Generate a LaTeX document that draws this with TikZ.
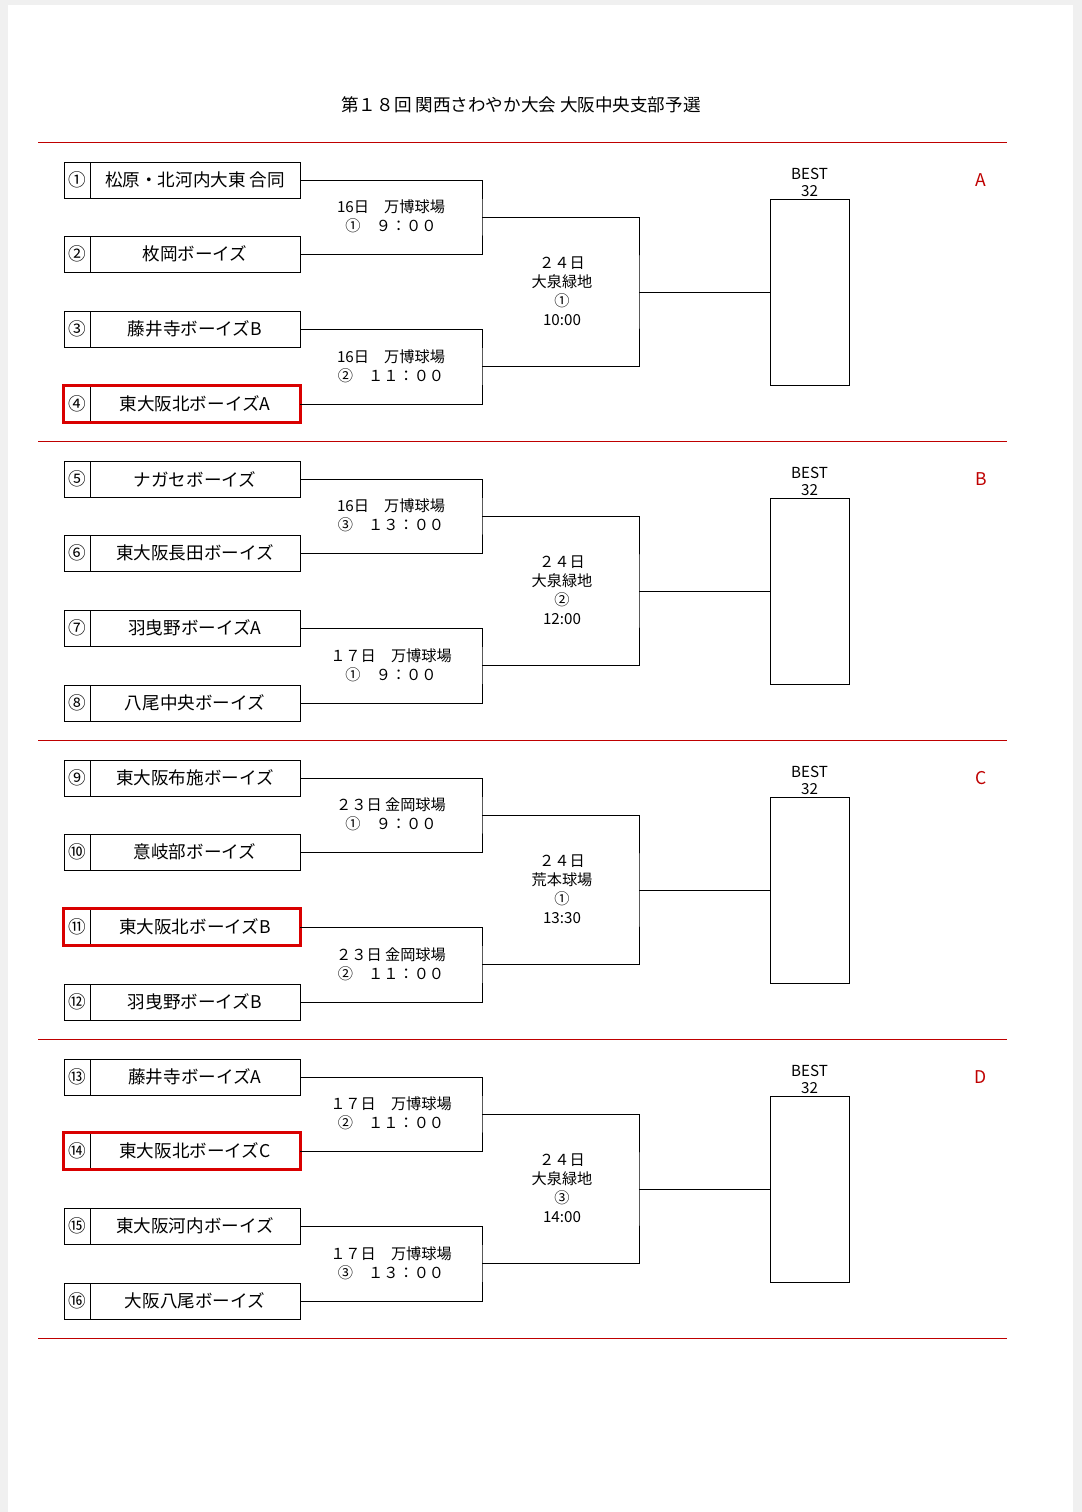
\documentclass[tikz,border=0pt]{standalone}
\usepackage{fontspec}
\setmainfont{Noto Sans CJK JP}
\usetikzlibrary{positioning}
\tikzset{
  team/.style  = {draw, line width=0.6pt, minimum width=5.25cm, minimum height=0.9cm, inner sep=0pt, font=\fontsize{12.5}{14}\selectfont},
  num/.style   = {draw, line width=0.6pt, minimum width=0.65cm, minimum height=0.9cm, inner sep=0pt, font=\fontsize{12.5}{14}\selectfont},
  hilite/.style= {draw=red!85!black, line width=2pt},
  match/.style = {align=center, font=\fontsize{10.8}{13.6}\selectfont},
  best/.style  = {draw, line width=0.6pt, minimum width=1.975cm, minimum height=4.65cm, inner sep=0pt},
  sep/.style   = {red!75!black, line width=0.7pt},
}
\begin{document}
\begin{tikzpicture}[x=0.025cm,y=-0.025cm]
  \useasboundingbox (0,0) rectangle (1082,1512);
  \fill[gray!12] (0,0) rectangle (1082,1512);
  \fill[white] (8,5) rectangle (1073,1512);
  \node[font=\fontsize{12.5}{14}\selectfont] (title) at (521,105) {第１８回 関西さわやか大会 大阪中央支部予選};

  % separators
  \foreach \k in {0,...,4}
    \draw[sep] (38,142+\k*299) -- (1007,142+\k*299);

  % teams
  \foreach \i/\mk/\nm in {1/①/松原・北河内大東 合同, 2/②/枚岡ボーイズ, 3/③/藤井寺ボーイズB, 4/④/東大阪北ボーイズA,
      5/⑤/ナガセボーイズ, 6/⑥/東大阪長田ボーイズ, 7/⑦/羽曳野ボーイズA, 8/⑧/八尾中央ボーイズ,
      9/⑨/東大阪布施ボーイズ, 10/⑩/意岐部ボーイズ, 11/⑪/東大阪北ボーイズB, 12/⑫/羽曳野ボーイズB,
      13/⑬/藤井寺ボーイズA, 14/⑭/東大阪北ボーイズC, 15/⑮/東大阪河内ボーイズ, 16/⑯/大阪八尾ボーイズ}{
    \pgfmathsetmacro{\yy}{180+int((\i-1)/4)*299+{0,74,149,224}[mod(\i-1,4)]}
    \node[team] (t\i) at (195,\yy) {\nm};
    \node[num] (n\i) at (77,\yy) {\mk};
  }
  \foreach \i in {4,11,14}
    \draw[hilite] (n\i.north west) rectangle (t\i.south east);

  % brackets
  \foreach \b/\L in {0/A,1/B,2/C,3/D}{
    \pgfmathtruncatemacro{\ta}{\b*4+1}
    \pgfmathtruncatemacro{\tb}{\b*4+2}
    \pgfmathtruncatemacro{\tc}{\b*4+3}
    \pgfmathtruncatemacro{\td}{\b*4+4}
    \coordinate (m\b a) at (482,217+\b*299);
    \coordinate (m\b b) at (482,366+\b*299);
    \coordinate (q\b) at (639,292+\b*299);
    \node[best] (best\b) at (809.5,292+\b*299) {};
    \node[above=0pt of best\b, align=center, font=\fontsize{10.8}{12.5}\selectfont, inner sep=1pt] (bl\b) {BEST\\32};
    \node[red!75!black, font=\fontsize{12.5}{14}\selectfont] (lab\b) at (981,180+\b*299) {\L};
    \draw[line width=0.6pt] (t\ta.east) -| (m\b a) |- (t\tb.east);
    \draw[line width=0.6pt] (t\tc.east) -| (m\b b) |- (t\td.east);
    \draw[line width=0.6pt] (m\b a) -| (q\b) |- (m\b b);
    \draw[line width=0.6pt] (q\b) -- (best\b.west);
  }

  % match labels
  \foreach \j/\yy/\txt in {1/216/{16日　万博球場\\①　９：００}, 2/366/{16日　万博球場\\②　１１：００},
      3/515/{16日　万博球場\\③　１３：００}, 4/665/{１７日　万博球場\\①　９：００},
      5/814/{２３日 金岡球場\\①　９：００}, 6/964/{２３日 金岡球場\\②　１１：００},
      7/1113/{１７日　万博球場\\②　１１：００}, 8/1263/{１７日　万博球場\\③　１３：００}}
    \node[match] (g\j) at (391,\yy) {\txt};
  \foreach \b/\txt in {0/{２４日\\大泉緑地\\①\\10:00}, 1/{２４日\\大泉緑地\\②\\12:00},
      2/{２４日\\荒本球場\\①\\13:30}, 3/{２４日\\大泉緑地\\③\\14:00}}
    \node[match, font=\fontsize{10.8}{13.6}\selectfont] (s\b) at (562,291+\b*299) {\txt};
\end{tikzpicture}
\end{document}
